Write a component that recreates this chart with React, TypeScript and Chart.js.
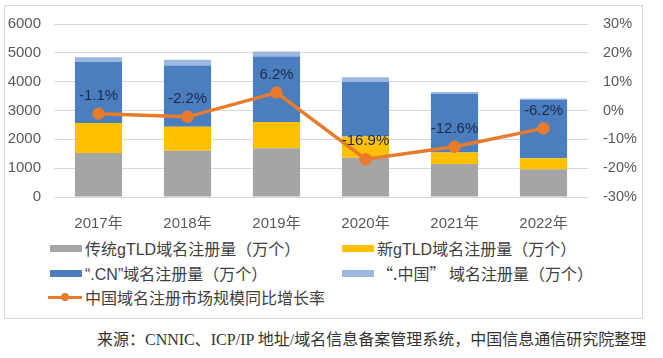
import React, { useEffect, useRef } from "react";
import { Chart, registerables } from "chart.js";

Chart.register(...registerables);

const categories = ["2017年", "2018年", "2019年", "2020年", "2021年", "2022年"];
const traditionalGtld = [1530, 1600, 1690, 1365, 1145, 960];
const newGtld = [1040, 840, 915, 730, 395, 385];
const cnDomain = [2110, 2120, 2270, 1890, 2040, 2025];
const zhongguoDomain = [170, 200, 175, 170, 60, 45];
const growthRate = [-1.1, -2.2, 6.2, -16.9, -12.6, -6.2];

const seriesNames = [
  "传统gTLD域名注册量（万个）",
  "新gTLD域名注册量（万个）",
  "“.CN”域名注册量（万个）",
  "“.中国” 域名注册量（万个）",
  "中国域名注册市场规模同比增长率",
];
const colors = ["#a5a5a5", "#ffc000", "#4a7ebf", "#9cb8de", "#e97b2d"];
const leftAxis = { min: 0, max: 6000, step: 1000 };
const rightAxis = { min: -30, max: 30, step: 10 };
const sourceText = "来源：CNNIC、ICP/IP 地址/域名信息备案管理系统，中国信息通信研究院整理";

const FONT = "'Liberation Sans', 'Noto Sans CJK SC', sans-serif";

const labelPlugin = {
  id: "lineLabels",
  afterDatasetsDraw(chart: any) {
    const meta = chart.getDatasetMeta(4);
    const ctx = chart.ctx;
    ctx.save();
    ctx.font = `15px ${FONT}`;
    ctx.fillStyle = "#1b2a48";
    ctx.textAlign = "center";
    ctx.textBaseline = "middle";
    meta.data.forEach((pt: any, i: number) => {
      ctx.fillText(growthRate[i].toFixed(1) + "%", pt.x, pt.y - 18);
    });
    ctx.restore();
  },
};

export default function App() {
  const ref = useRef<HTMLCanvasElement>(null);
  useEffect(() => {
    if (!ref.current) return;
    const barSets = [traditionalGtld, newGtld, cnDomain, zhongguoDomain].map((d, i) => ({
      type: "bar" as const,
      label: seriesNames[i],
      data: d,
      backgroundColor: colors[i],
      stack: "s",
      yAxisID: "y",
      order: 1,
      categoryPercentage: 0.53,
      barPercentage: 1,
    }));
    const chart = new Chart(ref.current, {
      type: "bar",
      data: {
        labels: categories,
        datasets: [
          ...barSets,
          {
            type: "line" as const,
            label: seriesNames[4],
            data: growthRate,
            borderColor: colors[4],
            backgroundColor: colors[4],
            borderWidth: 3.5,
            pointRadius: 4.5,
            pointBackgroundColor: colors[4],
            pointBorderColor: colors[4],
            yAxisID: "y1",
            order: 0,
          } as any,
        ],
      },
      options: {
        responsive: false,
        animation: false,
        devicePixelRatio: 1,
        layout: { padding: { top: 24, left: 0, right: 0, bottom: 0 } },
        plugins: { legend: { display: false }, tooltip: { enabled: false } },
        scales: {
          x: {
            stacked: true,
            grid: { display: false },
            border: { display: false },
            ticks: { color: "#595959", font: { size: 15, family: FONT }, padding: 10 },
            afterFit: (s: any) => { s.height = 35; },
          },
          y: {
            position: "left",
            stacked: true,
            min: leftAxis.min,
            max: leftAxis.max,
            grid: { color: "#d9d9d9", drawTicks: false },
            border: { display: false },
            ticks: {
              stepSize: leftAxis.step,
              color: "#595959",
              font: { size: 15, family: FONT },
              padding: 13,
              callback: (v: any) => String(v),
            },
            afterFit: (s: any) => { s.width = 54; },
          },
          y1: {
            position: "right",
            min: rightAxis.min,
            max: rightAxis.max,
            grid: { display: false, drawTicks: false },
            border: { display: false },
            ticks: {
              stepSize: rightAxis.step,
              color: "#595959",
              font: { size: 14.5, family: FONT },
              padding: 15,
              callback: (v: any) => `${v}%`,
            },
            afterFit: (s: any) => { s.width = 75; },
          },
        },
      },
      plugins: [labelPlugin],
    });
    return () => chart.destroy();
  }, []);

  const latinFirst = `16px 'Liberation Sans', 'Noto Sans CJK SC', sans-serif`;
  const cjkFirst = `16px 'Noto Sans CJK SC', 'Liberation Sans', sans-serif`;
  const legendPos = [
    { x: 50, y: 248 },
    { x: 342, y: 248 },
    { x: 50, y: 273 },
    { x: 342, y: 273 },
    { x: 48, y: 297 },
  ];

  return (
    <div style={{ position: "absolute", left: 0, top: 0, width: 663, height: 358, background: "#fff", overflow: "hidden" }}>
      <div style={{ position: "absolute", left: 4, top: 5, width: 637, height: 312, border: "1px solid #d9d9d9" }} />
      <canvas ref={ref} width={663} height={232} style={{ position: "absolute", left: 0, top: 0, width: 663, height: 232 }} />
      {seriesNames.map((name, i) => {
        const p = legendPos[i];
        const isLine = i === 4;
        return (
          <div key={i} style={{ position: "absolute", left: p.x, top: p.y - 12, height: 24, display: "flex", alignItems: "center", font: i === 3 ? cjkFirst : latinFirst, color: "#404040", whiteSpace: "nowrap" }}>
            {isLine ? (
              <div style={{ position: "relative", width: 34, height: 8, marginRight: 3 }}>
                <div style={{ position: "absolute", left: 0, top: 2.5, width: 34, height: 3, background: colors[4] }} />
                <div style={{ position: "absolute", left: 13, top: 0, width: 8, height: 8, borderRadius: 4, background: colors[4] }} />
              </div>
            ) : (
              <div style={{ width: 32, height: 7, background: colors[i], marginRight: 3 }} />
            )}
            <span>{name}</span>
          </div>
        );
      })}
      <div style={{ position: "absolute", left: 97, top: 326, height: 24, lineHeight: "24px", font: "16px 'Liberation Serif', 'Noto Sans CJK SC', serif", color: "#333", whiteSpace: "nowrap" }}>
        {sourceText}
      </div>
    </div>
  );
}
